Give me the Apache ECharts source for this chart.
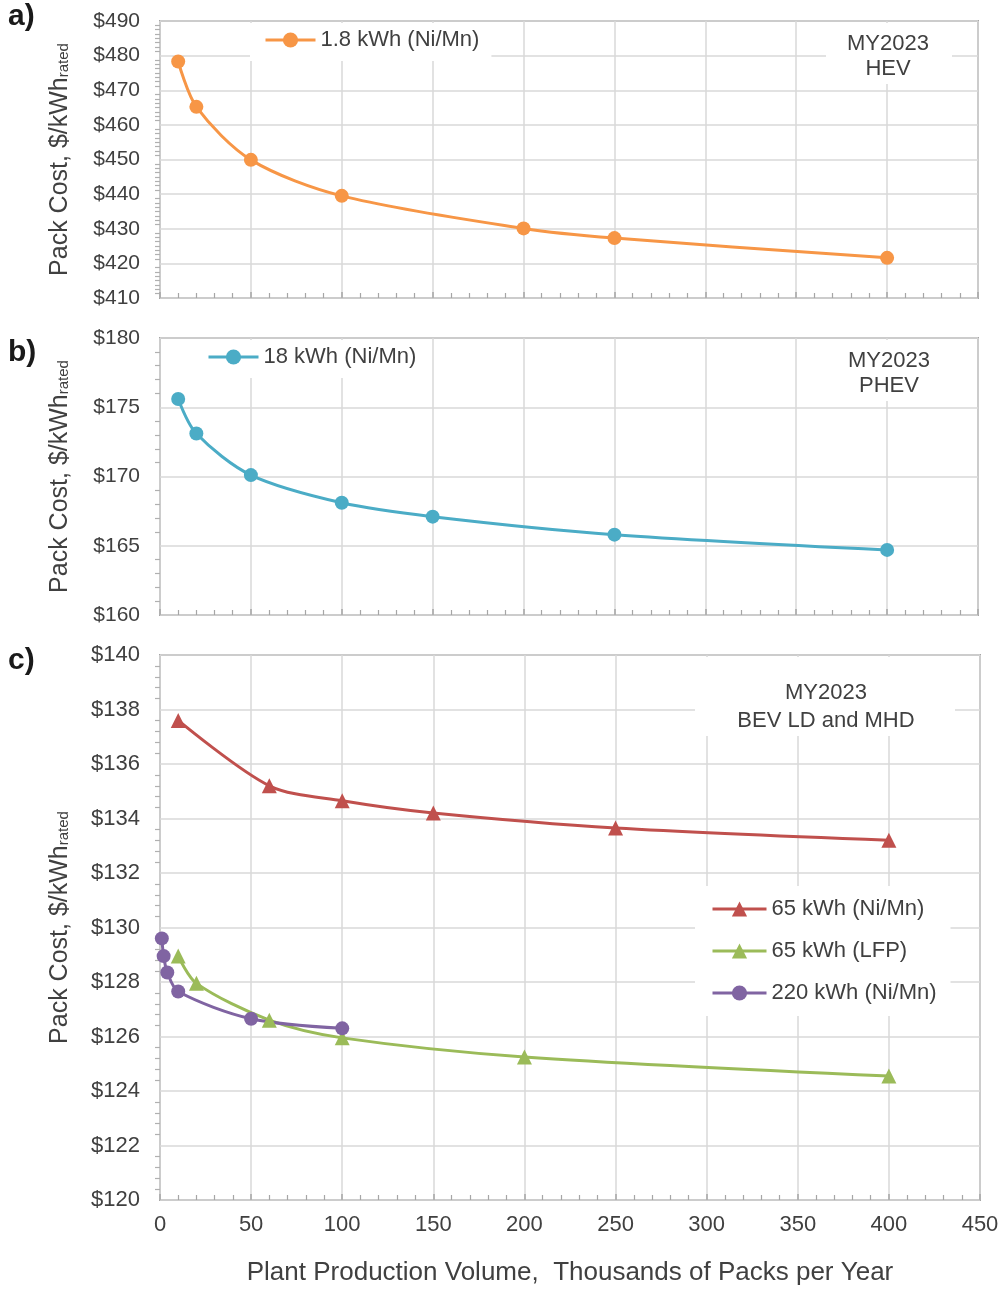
<!DOCTYPE html>
<html>
<head>
<meta charset="utf-8">
<script src="https://cdn.jsdelivr.net/npm/echarts@6/dist/echarts.min.js"></script>
<style>
  html, body { margin: 0; padding: 0; background: #fff; }
  #chart { width: 1005px; height: 1291px; }
</style>
</head>
<body>
<div id="chart"></div>
<script>
// thousands of packs per year
let hevX = [10, 20, 50, 100, 200, 250, 400];
let hevY = [478.3, 465.2, 449.9, 439.5, 430.1, 427.3, 421.6];

let phevX = [10, 20, 50, 100, 150, 250, 400];
let phevY = [175.6, 173.1, 170.1, 168.1, 167.1, 165.8, 164.7];

let nmcX = [10, 60, 100, 150, 250, 400];
let nmcY = [137.6, 135.2, 134.65, 134.2, 133.65, 133.2];

let lfpX = [10, 20, 60, 100, 200, 400];
let lfpY = [128.95, 127.95, 126.6, 125.95, 125.25, 124.55];

let mhdX = [1, 2, 4, 10, 50, 100];
let mhdY = [129.6, 128.95, 128.35, 127.65, 126.65, 126.3];

let xTicks = [0, 50, 100, 150, 200, 250, 300, 350, 400, 450];

const pairs = (xs, ys) => xs.map((x, i) => [x, ys[i]]);

let txt = '#404040';
let font = 'Liberation Sans, Arial, sans-serif';
let colors = ['#F79646', '#4BACC6', '#C0504D', '#9BBB59', '#8064A2'];

let myChart = echarts.init(document.getElementById('chart'));

function xAxisFor(gridIndex, showLabels) {
  return {
    type: 'value',
    gridIndex: gridIndex,
    min: xTicks[0],
    max: xTicks[xTicks.length - 1],
    interval: 50,
    axisLine: { show: false },
    axisTick: { show: true, inside: true, length: 6, lineStyle: { color: '#a6a6a6', width: 1.5 } },
    minorTick: { show: true, splitNumber: 5, length: 5, lineStyle: { color: '#a6a6a6', width: 1.2 } },
    splitLine: { show: true, lineStyle: { color: '#d9d9d9', width: 1.5 } },
    axisLabel: { show: showLabels, color: txt, fontSize: 22, fontFamily: font, margin: 14 },
    name: showLabels ? 'Plant Production Volume,  Thousands of Packs per Year' : '',
    nameLocation: 'middle',
    nameGap: 60,
    nameTextStyle: { color: txt, fontSize: 26, fontFamily: font }
  };
}

function yAxisFor(gridIndex, min, max, interval, minorSplit, labelSize) {
  return {
    type: 'value',
    gridIndex: gridIndex,
    min: min,
    max: max,
    interval: interval,
    axisLine: { show: false },
    axisTick: { show: false },
    minorTick: { show: true, splitNumber: minorSplit, length: 5, lineStyle: { color: '#b0b0b0', width: 1.2 } },
    splitLine: { show: true, lineStyle: { color: '#d9d9d9', width: 1.5 } },
    axisLabel: {
      color: txt, fontSize: labelSize, fontFamily: font, margin: 20,
      formatter: (v) => '$' + v
    },
    name: '{a|Pack Cost, $/kWh}{b|rated}',
    nameLocation: 'middle',
    nameGap: 80,
    nameTextStyle: {
      rich: {
        a: { color: txt, fontSize: 25, fontFamily: font, padding: [0, 0, 7, 0] },
        b: { color: txt, fontSize: 15, fontFamily: font }
      }
    }
  };
}

function lineSeries(name, xs, ys, axis, color, symbol, size) {
  return {
    name: name,
    type: 'line',
    xAxisIndex: axis,
    yAxisIndex: axis,
    data: pairs(xs, ys),
    smooth: 0.3,
    symbol: symbol,
    symbolSize: size,
    showSymbol: true,
    color: color,
    lineStyle: { width: 3, color: color },
    itemStyle: { color: color }
  };
}

let legendText = { color: txt, fontSize: 22, fontFamily: font };
let legendLine = { width: 3 };

let option = {
  animation: false,
  backgroundColor: '#fff',
  grid: [
    { left: 160, right: 27, top: 21, height: 277, show: true, borderColor: '#a6a6a6', borderWidth: 2, backgroundColor: 'transparent' },
    { left: 160, right: 27, top: 338, height: 277, show: true, borderColor: '#a6a6a6', borderWidth: 2, backgroundColor: 'transparent' },
    { left: 160, right: 25, top: 655, height: 545, show: true, borderColor: '#a6a6a6', borderWidth: 2, backgroundColor: 'transparent' }
  ],
  xAxis: [xAxisFor(0, false), xAxisFor(1, false), xAxisFor(2, true)],
  yAxis: [
    yAxisFor(0, 410, 490, 10, 8, 21),
    yAxisFor(1, 160, 180, 5, 5, 21),
    yAxisFor(2, 120, 140, 2, 5, 22)
  ],
  legend: [
    {
      data: ['1.8 kWh (Ni/Mn)'], left: 250, top: 23, itemWidth: 50, itemHeight: 19,
      lineStyle: legendLine,
      backgroundColor: '#fff', padding: [6, 12, 10, 14], textStyle: legendText
    },
    {
      data: ['18 kWh (Ni/Mn)'], left: 195, top: 340, itemWidth: 50, itemHeight: 19,
      lineStyle: legendLine,
      backgroundColor: '#fff', padding: [6, 12, 10, 12], textStyle: legendText
    },
    {
      data: ['65 kWh (Ni/Mn)', '65 kWh (LFP)', '220 kWh (Ni/Mn)'], orient: 'vertical',
      left: 695, top: 886, itemWidth: 54, itemHeight: 19, itemGap: 20,
      lineStyle: legendLine,
      backgroundColor: '#fff', padding: [12, 14, 12, 16], textStyle: legendText
    }
  ],
  graphic: [
    { type: 'text', left: 8, top: 2, style: { text: 'a)', fontSize: 30, fontWeight: 'bold', fontFamily: font, fill: '#1a1a1a' } },
    { type: 'text', left: 8, top: 338, style: { text: 'b)', fontSize: 30, fontWeight: 'bold', fontFamily: font, fill: '#1a1a1a' } },
    { type: 'text', left: 8, top: 646, style: { text: 'c)', fontSize: 30, fontWeight: 'bold', fontFamily: font, fill: '#1a1a1a' } },
    { type: 'rect', shape: { x: 826, y: 23, width: 126, height: 61 }, style: { fill: '#fff' }, z: 50 },
    { type: 'text', x: 888, y: 31, z: 51, style: { text: 'MY2023\nHEV', align: 'center', fontSize: 22, lineHeight: 25, fontFamily: font, fill: txt } },
    { type: 'rect', shape: { x: 826, y: 340, width: 126, height: 61 }, style: { fill: '#fff' }, z: 50 },
    { type: 'text', x: 889, y: 348, z: 51, style: { text: 'MY2023\nPHEV', align: 'center', fontSize: 22, lineHeight: 25, fontFamily: font, fill: txt } },
    { type: 'rect', shape: { x: 695, y: 657, width: 260, height: 79 }, style: { fill: '#fff' }, z: 50 },
    { type: 'text', x: 826, y: 679, z: 51, style: { text: 'MY2023\nBEV LD and MHD', align: 'center', fontSize: 22, lineHeight: 28, fontFamily: font, fill: txt } }
  ],
  series: [
    lineSeries('1.8 kWh (Ni/Mn)', hevX, hevY, 0, colors[0], 'circle', 14),
    lineSeries('18 kWh (Ni/Mn)', phevX, phevY, 1, colors[1], 'circle', 14),
    lineSeries('65 kWh (Ni/Mn)', nmcX, nmcY, 2, colors[2], 'triangle', 15),
    lineSeries('65 kWh (LFP)', lfpX, lfpY, 2, colors[3], 'triangle', 15),
    lineSeries('220 kWh (Ni/Mn)', mhdX, mhdY, 2, colors[4], 'circle', 14)
  ]
};

myChart.setOption(option);
</script>
</body>
</html>
